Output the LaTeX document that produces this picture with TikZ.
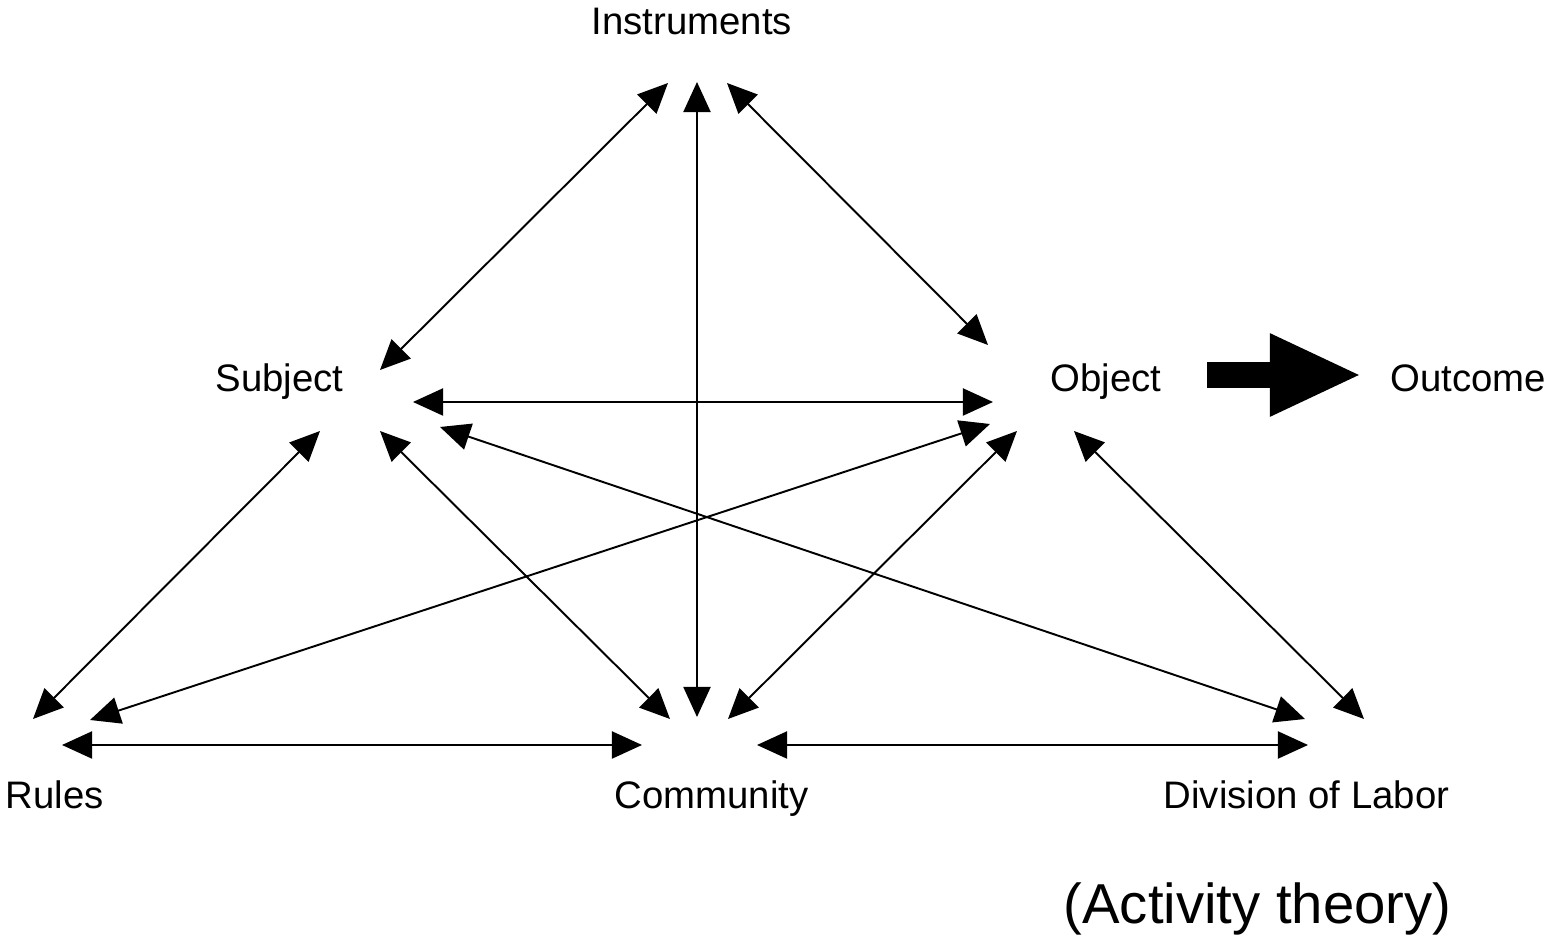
\documentclass[tikz,border=0pt]{standalone}
\usepackage{fontspec}
\setmainfont{Liberation Sans}
\usetikzlibrary{arrows.meta}
\begin{document}
\begin{tikzpicture}[x=0.01cm,y=-0.01cm,
  lbl/.style={inner sep=0pt,anchor=base west,font=\fontsize{10.9pt}{13pt}\selectfont},
  link/.style={line width=0.55pt,{Triangle[length=0.3cm,width=0.27cm]}-{Triangle[length=0.3cm,width=0.27cm]}},
  bigarrow/.style={line width=0.26cm,-{Triangle[length=0.92cm,width=0.76cm]}}]
\useasboundingbox (0,0) rectangle (1559,937);
% labels
\node[lbl] (ins) at (591,35) {Instruments};
\node[lbl] (sub) at (215,392) {Subject};
\node[lbl] (obj) at (1050,392) {Object};
\node[lbl] (out) at (1390,392) {Outcome};
\node[lbl] (rul) at (5,809) {Rules};
\node[lbl] (com) at (614,809) {Community};
\node[lbl] (div) at (1163,809) {Division of Labor};
\node[inner sep=0pt,anchor=base west,font=\fontsize{16pt}{19pt}\selectfont] (cap) at (1063,924) {(Activity theory)};
% connector end points
\coordinate (iS) at (668,83);  \coordinate (sI) at (380,370);
\coordinate (iC) at (697,82);  \coordinate (cI) at (697,717);
\coordinate (iO) at (727,83);  \coordinate (oI) at (988,345);
\coordinate (sO) at (413,402); \coordinate (oS) at (993,402);
\coordinate (sR) at (320,431); \coordinate (rS) at (33,719);
\coordinate (sC) at (380,431); \coordinate (cS) at (670,719);
\coordinate (sD) at (440,427); \coordinate (dS) at (1305,719);
\coordinate (oR) at (990,424); \coordinate (rO) at (90,720);
\coordinate (oC) at (1017,431);\coordinate (cO) at (728,719);
\coordinate (oD) at (1074,431);\coordinate (dO) at (1364,719);
\coordinate (rC) at (62,745);  \coordinate (cR) at (642,745);
\coordinate (cD) at (757,745); \coordinate (dC) at (1308,745);
\coordinate (oOut) at (1207,375); \coordinate (outO) at (1362,375);
% connectors
\draw[link] (iS) -- (sI);
\draw[link] (iC) -- (cI);
\draw[link] (iO) -- (oI);
\draw[link] (sO) -- (oS);
\draw[link] (sR) -- (rS);
\draw[link] (sC) -- (cS);
\draw[link] (sD) -- (dS);
\draw[link] (oR) -- (rO);
\draw[link] (oC) -- (cO);
\draw[link] (oD) -- (dO);
\draw[link] (rC) -- (cR);
\draw[link] (cD) -- (dC);
\draw[bigarrow] (oOut) -- (outO);
\end{tikzpicture}
\end{document}
